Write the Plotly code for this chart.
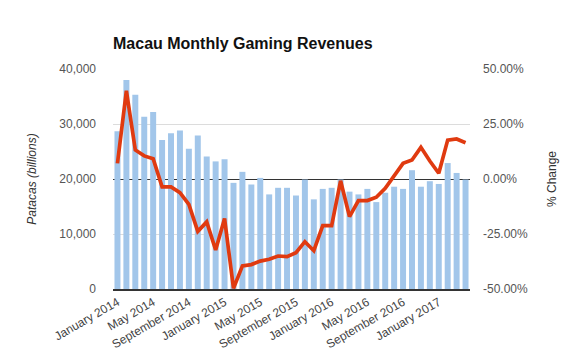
import plotly.graph_objects as go

months = ["January","February","March","April","May","June","July","August",
          "September","October","November","December"]
categories = [f"{months[(i) % 12]} {2014 + i // 12}" for i in range(40)]

revenues = [28.7, 38.0, 35.3, 31.3, 32.2, 27.1, 28.3, 28.8, 25.5, 27.9,
            24.1, 23.2, 23.6, 19.3, 21.3, 19.0, 20.2, 17.2, 18.4, 18.4,
            17.0, 19.9, 16.3, 18.2, 18.4, 19.9, 17.7, 17.2, 18.2, 15.8,
            17.5, 18.6, 18.2, 21.6, 18.6, 19.6, 19.1, 22.9, 21.1, 19.9]
revenues_mop = [v * 1000 for v in revenues]

pct_change = [7.1, 40.1, 13.2, 10.5, 9.2, -3.6, -3.6, -6.2, -11.5, -23.8,
              -19.5, -32.3, -18.0, -49.7, -39.5, -38.9, -37.3, -36.5, -35.0, -35.3,
              -33.5, -28.5, -32.6, -21.2, -21.2, -0.8, -17.1, -9.8, -9.8, -8.3,
              -4.2, 1.4, 7.1, 8.6, 14.4, 8.2, 2.6, 17.7, 18.2, 16.5]

tick_labels = categories[::4]
left_ticks = [0, 10000, 20000, 30000, 40000]
right_ticks = [-50, -25, 0, 25, 50]
right_tick_text = [f"{v:.2f}%" for v in right_ticks]

fig = go.Figure()
fig.add_trace(go.Bar(x=categories, y=revenues_mop, marker_color="#a2c6ea",
                     marker_line_width=0, name="Revenue"))
fig.add_trace(go.Scatter(x=categories, y=pct_change, yaxis="y2", mode="lines",
                         line=dict(color="#e03a10", width=3.7), name="% Change"))

font = "Liberation Sans, Arial, sans-serif"
fig.update_layout(
    width=580, height=359,
    margin=dict(l=113, r=110, t=69, b=70),
    paper_bgcolor="white", plot_bgcolor="white",
    showlegend=False,
    bargap=0.33,
    font=dict(family=font, size=12, color="#555"),
    title=dict(text="<b>Macau Monthly Gaming Revenues</b>", x=113/580, xanchor="left",
               y=1 - 43/359, yanchor="middle",
               font=dict(family=font, size=16, color="#111")),
    xaxis=dict(type="category", tickmode="array", tickvals=tick_labels, ticktext=tick_labels,
               tickangle=-30, showline=True, linecolor="#333", linewidth=1.5,
               showgrid=False, ticks="", automargin=False,
               tickfont=dict(size=12, color="#444")),
    yaxis=dict(range=[0, 40000], tickvals=left_ticks, tickformat=",", showgrid=True,
               gridcolor="#dcdcdc", zeroline=False, ticks="", automargin=False,
               ticklabelstandoff=16,
               title=dict(text="<i>Patacas (billions)</i>", standoff=20,
                          font=dict(size=12, color="#333"))),
    yaxis2=dict(range=[-50, 50], tickmode="array", tickvals=right_ticks,
                ticktext=right_tick_text,
                overlaying="y", side="right", showgrid=False, zeroline=True,
                zerolinecolor="#333", zerolinewidth=1, ticks="", automargin=False,
                ticklabelstandoff=12,
                title=dict(text="% Change", standoff=20, font=dict(size=12, color="#333"))),
)
fig.write_html("out.html", config={"displayModeBar": False},
               post_script="document.body.style.margin='0';")
